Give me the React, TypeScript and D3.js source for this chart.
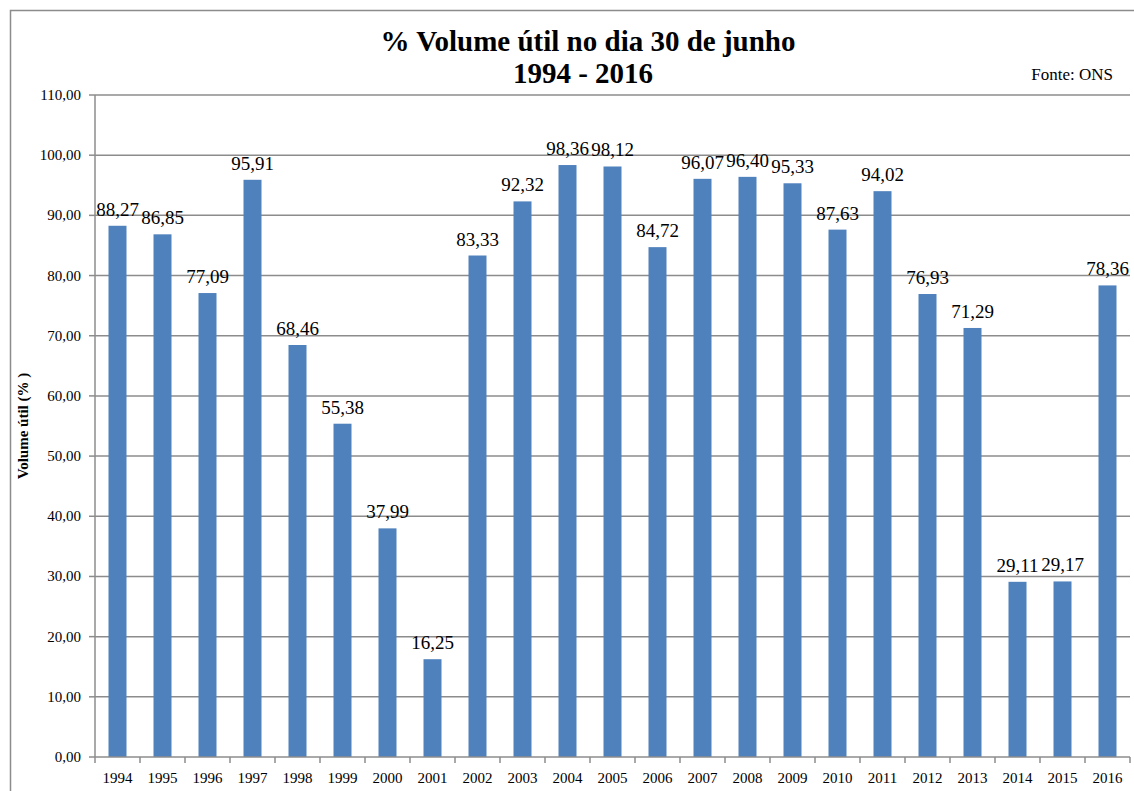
import * as d3 from "d3";

const years = [
  "1994", "1995", "1996", "1997", "1998", "1999", "2000", "2001", "2002", "2003", "2004", "2005",
  "2006", "2007", "2008", "2009", "2010", "2011", "2012", "2013", "2014", "2015", "2016",
];
const volumes = [
  88.27, 86.85, 77.09, 95.91, 68.46, 55.38, 37.99, 16.25, 83.33, 92.32, 98.36, 98.12,
  84.72, 96.07, 96.4, 95.33, 87.63, 94.02, 76.93, 71.29, 29.11, 29.17, 78.36,
];
const yTicks = [0, 10, 20, 30, 40, 50, 60, 70, 80, 90, 100, 110];

const W = 1134;
const H = 791;
const margin = { top: 95, right: 4, bottom: 34, left: 95 };
const font = "Liberation Serif";

const fmt = (v: number) => v.toFixed(2).replace(".", ",");

export default function App() {
  const innerW = W - margin.left - margin.right;
  const innerH = H - margin.top - margin.bottom;

  const x = d3.scaleBand().domain(years).range([0, innerW]).paddingInner(0.6).paddingOuter(0.3);
  const step = x.step();
  const y = d3.scaleLinear().domain([0, 110]).range([innerH, 0]);

  return (
    <svg width={W} height={H} style={{ position: "absolute", left: 0, top: 0 }} fontFamily={font}>
      <rect x={0} y={0} width={W} height={H} fill="#fff" />
      <rect x={10.5} y={10.5} width={W + 20} height={H + 20} fill="none" stroke="#8c8c8c" strokeWidth={1.5} />

      {/* title */}
      <text x={588} y={51} textAnchor="middle" fontFamily={font} fontSize={29} fontWeight="bold" fill="#000">
        % Volume útil no dia 30 de junho
      </text>
      <text x={583} y={83} textAnchor="middle" fontFamily={font} fontSize={29} fontWeight="bold" fill="#000">
        1994 - 2016
      </text>
      <text x={1113} y={80} textAnchor="end" fontFamily={font} fontSize={17} fill="#000">
        Fonte: ONS
      </text>

      <text
        transform={`translate(28,${margin.top + innerH / 2}) rotate(-90)`}
        textAnchor="middle"
        fontFamily={font}
        fontSize={15}
        fontWeight="bold"
        fill="#000"
      >
        Volume  útil (% )
      </text>

      <g transform={`translate(${margin.left},${margin.top})`}>
        {/* gridlines */}
        {yTicks.map((t) => (
          <g key={t} transform={`translate(0,${y(t)})`}>
            {t > 0 && <line x1={0} x2={innerW} stroke="#8c8c8c" strokeWidth={1.5} />}
            <line x1={-6} x2={0} stroke="#8c8c8c" strokeWidth={1.5} />
            <text x={-14} y={5} textAnchor="end" fontFamily={font} fontSize={15} fill="#000">
              {fmt(t)}
            </text>
          </g>
        ))}

        {/* bars */}
        {years.map((yr, i) => (
          <rect
            key={yr}
            x={x(yr)}
            y={y(volumes[i])}
            width={x.bandwidth()}
            height={innerH - y(volumes[i])}
            fill="#4f81bd"
          />
        ))}

        {/* value labels */}
        {years.map((yr, i) => (
          <text
            key={yr}
            x={(x(yr) ?? 0) + x.bandwidth() / 2}
            y={y(volumes[i]) - 10}
            textAnchor="middle"
            fontFamily={font}
            fontSize={19}
            fill="#000"
          >
            {fmt(volumes[i])}
          </text>
        ))}

        {/* axes */}
        <line x1={0} x2={0} y1={0} y2={innerH} stroke="#8c8c8c" strokeWidth={1.5} />
        <line x1={0} x2={innerW} y1={innerH} y2={innerH} stroke="#8c8c8c" strokeWidth={1.5} />
        {d3.range(years.length + 1).map((i) => (
          <line key={i} x1={i * step} x2={i * step} y1={innerH} y2={innerH + 6} stroke="#8c8c8c" strokeWidth={1.5} />
        ))}
        {years.map((yr) => (
          <text
            key={yr}
            x={(x(yr) ?? 0) + x.bandwidth() / 2}
            y={innerH + 26}
            textAnchor="middle"
            fontFamily={font}
            fontSize={15}
            fill="#000"
          >
            {yr}
          </text>
        ))}
      </g>
    </svg>
  );
}
